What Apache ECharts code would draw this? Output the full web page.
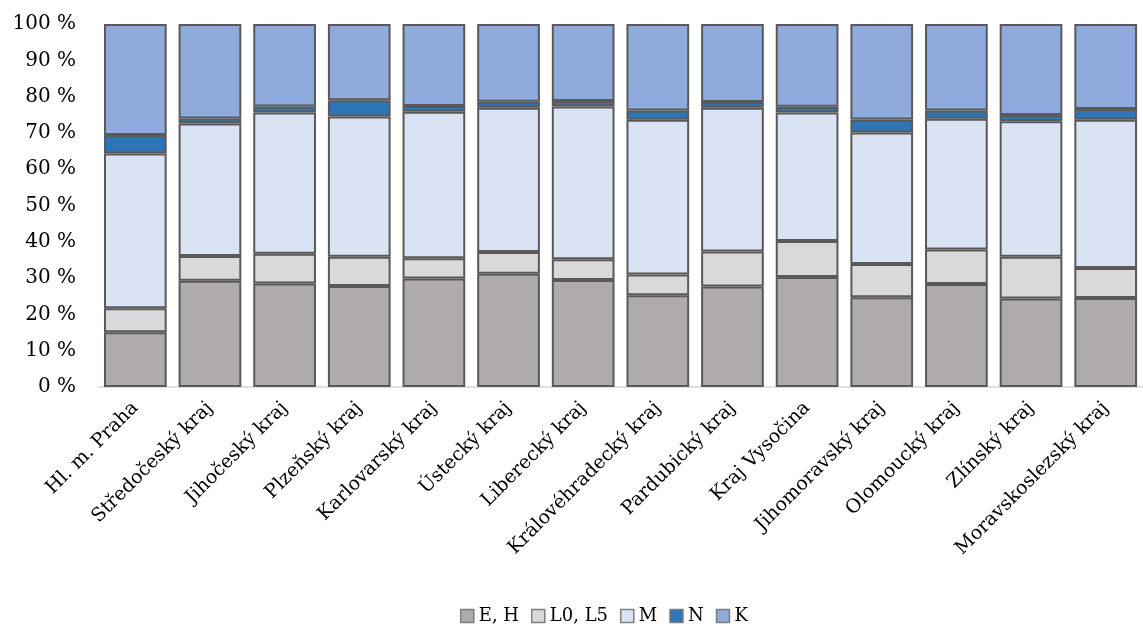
<!DOCTYPE html>
<html>
<head>
<meta charset="utf-8">
<script src="https://cdn.jsdelivr.net/npm/echarts@6/dist/echarts.min.js"></script>
<style>
  html, body { margin: 0; padding: 0; background: #fff; }
  #chart { width: 1143px; height: 630px; }
</style>
</head>
<body>
<div id="chart"></div>
<script>
const regions = ['Hl. m. Praha', 'Středočeský kraj', 'Jihočeský kraj', 'Plzeňský kraj', 'Karlovarský kraj',
  'Ústecký kraj', 'Liberecký kraj', 'Královéhradecký kraj', 'Pardubický kraj', 'Kraj Vysočina',
  'Jihomoravský kraj', 'Olomoucký kraj', 'Zlínský kraj', 'Moravskoslezský kraj']

const eh = [15.1, 29.3, 28.5, 27.8, 29.9, 31.2, 29.5, 25.3, 27.7, 30.3, 24.7, 28.4, 24.4, 24.5]
const l0l5 = [6.6, 6.8, 8.2, 8.1, 5.6, 6.0, 5.7, 5.7, 9.6, 9.9, 9.2, 9.5, 11.5, 8.3]
const m = [42.6, 36.5, 38.9, 38.6, 40.3, 39.7, 42.1, 42.6, 39.6, 35.4, 36.2, 36.0, 37.3, 40.8]
const n = [5.1, 1.4, 1.7, 4.5, 1.6, 1.7, 1.5, 2.6, 1.6, 1.6, 3.6, 2.3, 1.7, 3.0]
const k = [30.6, 26.0, 22.7, 21.0, 22.6, 21.4, 21.2, 23.8, 21.5, 22.8, 26.3, 23.8, 25.1, 23.4]

const seriesNames = ['E, H', 'L0, L5', 'M', 'N', 'K']
const seriesColors = ['#afabab', '#d9d9d9', '#dae3f3', '#2e75b6', '#8faadc']

const font = 'DejaVu Serif'
const chart = echarts.init(document.getElementById('chart'))

const makeSeries = (name, data, i) => ({
  name: name,
  type: 'bar',
  stack: 'total',
  data: data,
  barCategoryGap: '16%',
  itemStyle: {
    color: seriesColors[i],
    borderColor: '#595959',
    borderWidth: 2
  }
})

chart.setOption({
  animation: false,
  textStyle: { fontFamily: font, color: '#000' },
  grid: { left: 98, right: -13, top: 24, bottom: 243, containLabel: false },
  legend: {
    bottom: 0,
    left: 455,
    itemWidth: 13,
    itemHeight: 13,
    itemGap: 12,
    icon: 'rect',
    textStyle: { fontFamily: font, fontSize: 18, color: '#000' },
    itemStyle: { borderColor: '#7f7f7f', borderWidth: 1.5 },
    data: seriesNames
  },
  xAxis: {
    type: 'category',
    data: regions,
    axisLine: { lineStyle: { color: '#d9d9d9', width: 1.5 } },
    axisTick: { show: false },
    axisLabel: {
      interval: 0,
      rotate: 45,
      margin: 18,
      fontFamily: font,
      fontSize: 19,
      color: '#000'
    }
  },
  yAxis: {
    type: 'value',
    min: 0,
    max: 100,
    interval: 10,
    axisLine: { show: false },
    axisTick: { show: false },
    splitLine: { show: false },
    axisLabel: {
      margin: 22,
      fontFamily: font,
      fontSize: 20,
      color: '#000',
      formatter: v => v + ' %'
    }
  },
  series: [
    makeSeries(seriesNames[0], eh, 0),
    makeSeries(seriesNames[1], l0l5, 1),
    makeSeries(seriesNames[2], m, 2),
    makeSeries(seriesNames[3], n, 3),
    makeSeries(seriesNames[4], k, 4)
  ]
})
</script>
</body>
</html>
